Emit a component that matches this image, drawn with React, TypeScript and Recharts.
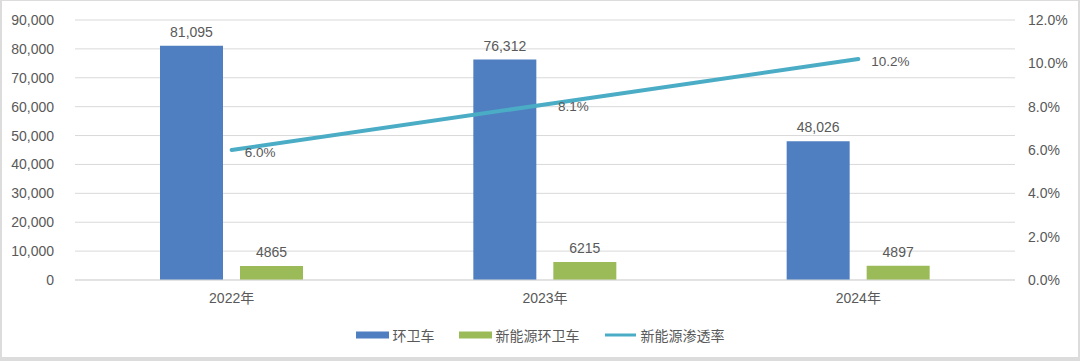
import React from "react";
import {
  ComposedChart,
  Bar,
  Line,
  XAxis,
  YAxis,
  CartesianGrid,
  Legend,
  LabelList,
} from "recharts";

const years = ["2022年", "2023年", "2024年"];
const sanitationTrucks = [81095, 76312, 48026];
const newEnergyTrucks = [4865, 6215, 4897];
const penetrationRate = [6.0, 8.1, 10.2];

const seriesNames = ["环卫车", "新能源环卫车", "新能源渗透率"];

const leftTicks = [0, 10000, 20000, 30000, 40000, 50000, 60000, 70000, 80000, 90000];
const rightTicks = [0, 2, 4, 6, 8, 10, 12];

const data = years.map((year, i) => ({
  year,
  total: sanitationTrucks[i],
  newEnergy: newEnergyTrucks[i],
  rate: penetrationRate[i],
}));

const BLUE = "#4f7fc0";
const GREEN = "#9bbb59";
const TEAL = "#4bacc6";
const TEXT = "#595959";
const FONT = "'Liberation Sans', 'Noto Sans CJK SC', sans-serif";

const RateLabel = (props: any) => {
  const { x, y, value } = props;
  return (
    <text
      x={x + 13}
      y={y + 2}
      dy="0.35em"
      textAnchor="start"
      fill={TEXT}
      fontSize={13.5}
      fontFamily={FONT}
    >
      {Number(value).toFixed(1)}%
    </text>
  );
};

const LegendContent = (props: any) => {
  const payload = [...(props.payload || [])].sort(
    (a: any, b: any) => seriesNames.indexOf(a.value) - seriesNames.indexOf(b.value)
  );
  return (
    <div
      style={{
        height: 24,
        display: "flex",
        justifyContent: "center",
        alignItems: "center",
        gap: 24,
        fontFamily: "'Noto Sans CJK SC', sans-serif",
        fontSize: 14,
        color: TEXT,
      }}
    >
      {payload.map((entry: any) => (
        <div key={entry.value} style={{ display: "flex", alignItems: "center" }}>
          <svg width={33} height={10} style={{ marginRight: 4 }}>
            {entry.type === "line" ? (
              <line x1={1} y1={5} x2={32} y2={5} stroke={entry.color} strokeWidth={3} />
            ) : (
              <rect x={0} y={1.5} width={33} height={7} fill={entry.color} />
            )}
          </svg>
          <span>{entry.value}</span>
        </div>
      ))}
    </div>
  );
};

export default function App() {
  return (
    <div
      style={{
        position: "absolute",
        left: 0,
        top: 0,
        width: 1080,
        height: 361,
        boxSizing: "border-box",
        borderTop: "1px solid #dcdcdc",
        borderLeft: "2px solid #dcdcdc",
        borderRight: "2px solid #dcdcdc",
        borderBottom: "4px solid #dcdcdc",
        background: "#fff",
      }}
    >
      <ComposedChart
        width={1076}
        height={356}
        data={data}
        margin={{ top: 19, right: 0, bottom: 23, left: 0 }}
        barSize={63}
        barGap={17}
      >
        <CartesianGrid vertical={false} stroke="#d9d9d9" yAxisId="left" />
        <XAxis
          dataKey="year"
          axisLine={{ stroke: "#d9d9d9" }}
          tickLine={false}
          height={30}
          tickMargin={7}
          tick={{ fill: TEXT, fontSize: 14, fontFamily: FONT }}
        />
        <YAxis
          yAxisId="left"
          width={73}
          domain={[0, 90000]}
          ticks={leftTicks}
          axisLine={false}
          tickLine={false}
          tickMargin={15}
          tickFormatter={(v: number) => v.toLocaleString("en-US")}
          tick={{ fill: TEXT, fontSize: 14, fontFamily: FONT }}
        />
        <YAxis
          yAxisId="right"
          orientation="right"
          width={63}
          domain={[0, 12]}
          ticks={rightTicks}
          axisLine={false}
          tickLine={false}
          tickMargin={7}
          tickFormatter={(v: number) => `${v.toFixed(1)}%`}
          tick={{ fill: TEXT, fontSize: 14, fontFamily: FONT }}
        />
        <Legend
          verticalAlign="bottom"
          content={<LegendContent />}
          wrapperStyle={{ bottom: 10 }}
        />
        <Bar yAxisId="left" dataKey="total" name={seriesNames[0]} fill={BLUE} isAnimationActive={false}>
          <LabelList
            dataKey="total"
            position="top"
            offset={9}
            formatter={(v: any) => Number(v).toLocaleString("en-US")}
            style={{ fill: TEXT, fontSize: 14, fontFamily: FONT }}
          />
        </Bar>
        <Bar yAxisId="left" dataKey="newEnergy" name={seriesNames[1]} fill={GREEN} isAnimationActive={false}>
          <LabelList
            dataKey="newEnergy"
            position="top"
            offset={9}
            style={{ fill: TEXT, fontSize: 14, fontFamily: FONT }}
          />
        </Bar>
        <Line
          yAxisId="right"
          dataKey="rate"
          name={seriesNames[2]}
          type="linear"
          stroke={TEAL}
          strokeWidth={4}
          strokeLinecap="round"
          dot={false}
          legendType="line"
          isAnimationActive={false}
        >
          <LabelList dataKey="rate" content={<RateLabel />} />
        </Line>
      </ComposedChart>
    </div>
  );
}
